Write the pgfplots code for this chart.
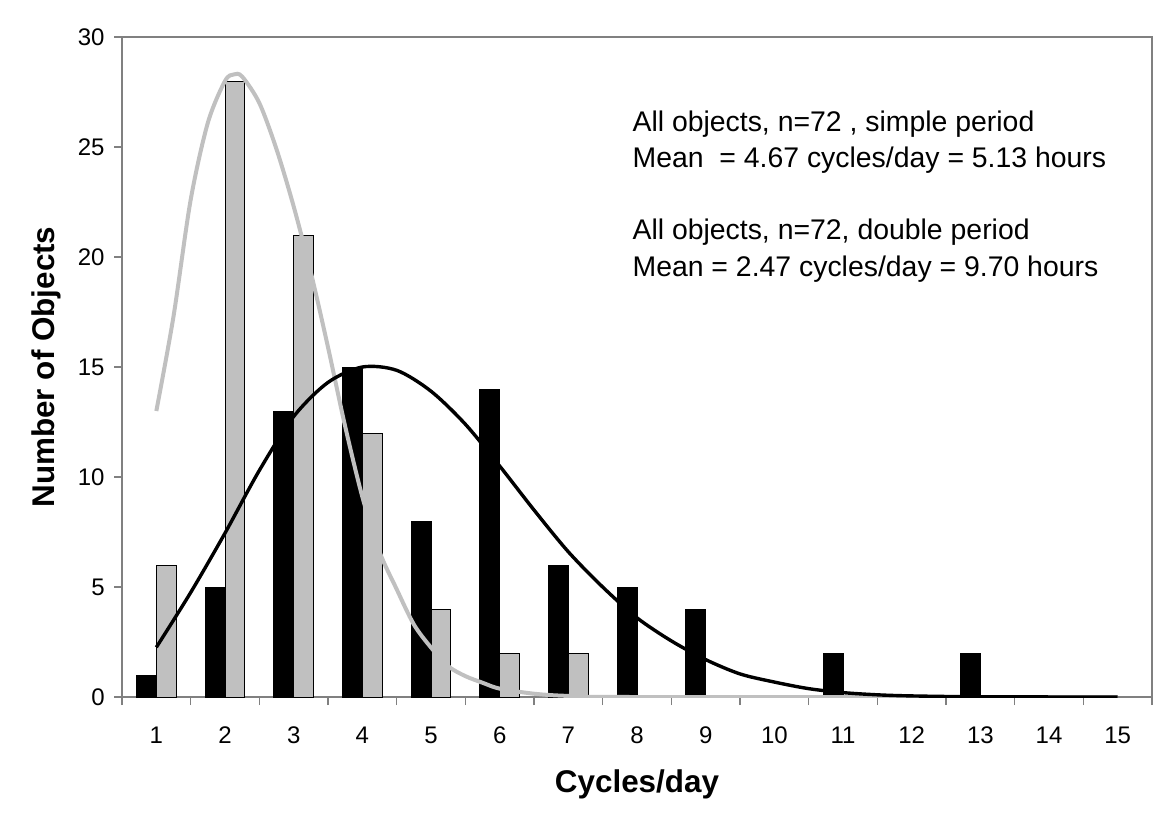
\documentclass[border=0pt]{standalone}
\usepackage{fontspec}
\setmainfont{Liberation Sans}
\usepackage{pgfplots}
\pgfplotsset{compat=1.18}
\definecolor{framegray}{RGB}{128,128,128}
\definecolor{bargray}{RGB}{192,192,192}

\begin{document}
\begin{tikzpicture}
\useasboundingbox (-61pt,-65pt) rectangle (524pt,348.5pt);
\begin{axis}[
    at={(0,0)}, anchor=south west,
    scale only axis, width=515pt, height=330pt,
    xmin=0.5, xmax=15.5,
    ymin=0, ymax=30,
    xtick={0.5,1.5,...,15.5},
    xticklabels={1,2,3,4,5,6,7,8,9,10,11,12,13,14,15,{}},
    ytick={0,5,...,30},
    tick pos=left,
    tick align=outside,
    major tick length=4pt,
    axis line style={framegray, line width=0.7pt},
    tick style={framegray, line width=0.6pt},
    /pgf/number format/assume math mode=true,
    tick label style={font=\fontsize{12}{14}\selectfont, inner sep=0pt},
    xticklabel style={anchor=base, xshift=17.17pt, yshift=-19pt},
    yticklabel style={anchor=east, xshift=-4.5pt},
    xlabel={Cycles/day},
    ylabel={Number of Objects},
    xlabel style={at={([yshift=-47.5pt]axis description cs:0.5,0)}, anchor=base,
        font=\fontsize{15.7}{18}\selectfont\bfseries, inner sep=0pt},
    ylabel style={at={([xshift=-33.5pt]axis description cs:0,0.5)}, anchor=base,
        rotate=0, font=\fontsize{15.7}{18}\selectfont\bfseries, inner sep=0pt},
]

% double period (black bars)
\addplot[ybar, bar width=0.29, bar shift=-0.145, fill=black, draw=black]
    coordinates {(1,1)(2,5)(3,13)(4,15)(5,8)(6,14)(7,6)(8,5)(9,4)(11,2)(13,2)};

% simple period (grey bars)
\addplot[ybar, bar width=0.29, bar shift=0.145, fill=bargray, draw=black, line width=0.5pt]
    coordinates {(1,6)(2,28)(3,21)(4,12)(5,4)(6,2)(7,2)};

% fitted curves
\addplot[smooth, bargray, line width=2pt] coordinates {
    (1,13.0)(1.25,17.3)(1.5,22.6)(1.75,26.1)(2.0,28.0)(2.13,28.3)(2.25,28.2)
    (2.5,27.0)(2.75,24.9)(3.0,22.3)(3.25,19.3)(3.5,15.9)(3.75,12.3)(4.0,9.1)
    (4.25,6.6)(4.5,4.9)(4.75,3.3)(5.0,2.25)(5.25,1.4)(5.5,0.95)(5.75,0.65)
    (6.0,0.38)(6.5,0.15)(7,0.05)(8,0)(15,0)};

\addplot[smooth, black, line width=1.7pt] coordinates {
    (1,2.26)(1.5,4.75)(2,7.45)(2.5,10.3)(3,12.75)(3.5,14.3)(4,15.0)(4.5,14.85)
    (5,13.9)(5.5,12.4)(6,10.5)(6.5,8.5)(7,6.6)(7.5,5.0)(8,3.6)(8.5,2.55)
    (9,1.7)(9.5,1.05)(10,0.68)(10.5,0.38)(11,0.2)(11.5,0.1)(12,0.05)(13,0.01)(15,0)};

\node[anchor=base west, inner sep=0pt, font=\fontsize{14.2}{16}\selectfont]
    at (axis cs:7.93,25.71) {All objects, n=72 , simple period};
\node[anchor=base west, inner sep=0pt, font=\fontsize{14.2}{16}\selectfont]
    at (axis cs:7.93,24.05) {Mean\ \ = 4.67 cycles/day = 5.13 hours};
\node[anchor=base west, inner sep=0pt, font=\fontsize{14.2}{16}\selectfont]
    at (axis cs:7.93,20.80) {All objects, n=72, double period};
\node[anchor=base west, inner sep=0pt, font=\fontsize{14.2}{16}\selectfont]
    at (axis cs:7.93,19.13) {Mean = 2.47 cycles/day = 9.70 hours};
\end{axis}
\end{tikzpicture}
\end{document}
